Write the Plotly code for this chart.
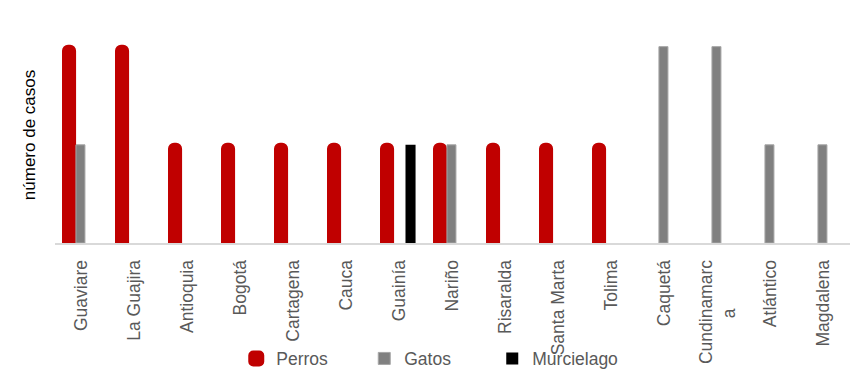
import plotly.graph_objects as go

categories = ["Guaviare", "La Guajira", "Antioquia", "Bogotá", "Cartagena", "Cauca",
              "Guainía", "Nariño", "Risaralda", "Santa Marta", "Tolima", "Caquetá",
              "Cundinamarca", "Atlántico", "Magdalena"]
tick_labels = ["Guaviare", "La Guajira", "Antioquia", "Bogotá", "Cartagena", "Cauca",
               "Guainía", "Nariño", "Risaralda", "Santa Marta", "Tolima", "Caquetá",
               "Cundinamarc<br>a" + "\u00a0" * 10, "Atlántico", "Magdalena"]
perros = [2, 2, 1, 1, 1, 1, 1, 1, 1, 1, 1, 0, 0, 0, 0]
gatos = [1, 0, 0, 0, 0, 0, 0, 1, 0, 0, 0, 2, 2, 1, 1]
murcielago = [0, 0, 0, 0, 0, 0, 1, 0, 0, 0, 0, 0, 0, 0, 0]

FONT = "Liberation Sans, Arial, sans-serif"

fig = go.Figure()
fig.add_trace(go.Bar(
    x=categories, y=[v if v else None for v in perros], name="Perros",
    marker=dict(color="#C00000", line=dict(color="#C00000", width=4), cornerradius=4),
    width=0.19, offset=-0.33, cliponaxis=False,
))
fig.add_trace(go.Bar(
    x=categories, y=[v if v else None for v in gatos], name="Gatos",
    marker=dict(color="#808080", line=dict(color="#A6A6A6", width=1)),
    width=0.17, offset=-0.105, cliponaxis=False,
))
fig.add_trace(go.Bar(
    x=categories, y=[v if v else None for v in murcielago], name="Murcielago",
    marker=dict(color="#000000", line=dict(width=0)),
    width=0.19, offset=0.113, cliponaxis=False,
))

fig.update_layout(
    width=863, height=371,
    margin=dict(l=55, r=13, t=27, b=128, autoexpand=False),
    paper_bgcolor="white", plot_bgcolor="white",
    barmode="group",
    font=dict(family=FONT, size=17, color="#595959"),
    showlegend=True,
    legend=dict(
        orientation="h", x=0.228, xanchor="left", y=-0.535, yanchor="middle",
        font=dict(family=FONT, size=17.5, color="#595959"),
        entrywidth=83, entrywidthmode="pixels", itemwidth=30,
        bgcolor="rgba(0,0,0,0)",
    ),
    xaxis=dict(
        tickmode="array", tickvals=categories, ticktext=tick_labels,
        tickangle=-90, showline=True, linecolor="#D9D9D9", linewidth=2,
        ticks="", ticklabelstandoff=8, showgrid=False, zeroline=False,
        tickfont=dict(family=FONT, size=17.5, color="#595959"),
        range=[-0.5, 14.5], automargin=False,
    ),
    yaxis=dict(
        range=[0, 2.2], showticklabels=False, showgrid=False, zeroline=False,
        showline=False, ticks="", automargin=False,
        title=dict(text="número de casos", standoff=14,
                   font=dict(family=FONT, size=17, color="#000000")),
    ),
)

fig.write_html("out.html",
               config={"displayModeBar": False},
               post_script="document.body.style.margin='0px';document.body.style.padding='0px';")
